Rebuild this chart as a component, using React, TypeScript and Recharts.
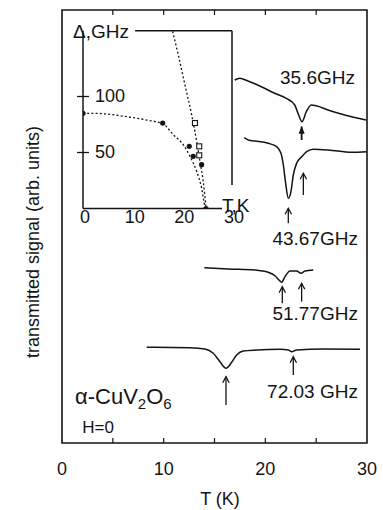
import React from 'react';
import {
  ComposedChart,
  Line,
  XAxis,
  YAxis,
  ReferenceArea,
  ReferenceLine,
  ReferenceDot,
  Scatter,
} from 'recharts';

const FONT = '"Liberation Sans", Arial, Helvetica, sans-serif';
const INK = '#141414';

// ---------- main panel data: T (K) vs transmitted signal (arb. units, offset traces) ----------
const trace356 = [
  { t: 16.99, s: 363 }, { t: 17.48, s: 364.7 }, { t: 18.29, s: 362 }, { t: 19.6, s: 356.3 },
  { t: 20.92, s: 349.7 }, { t: 22.06, s: 344.7 }, { t: 22.89, s: 338 }, { t: 23.28, s: 328 },
  { t: 23.61, s: 321.3 }, { t: 24.03, s: 331.3 }, { t: 24.52, s: 338 }, { t: 25.01, s: 337.3 },
  { t: 26.16, s: 333 }, { t: 27.81, s: 328 }, { t: 29.9, s: 323 },
];
const trace4367 = [
  { t: 17.93, s: 305.3 }, { t: 18.32, s: 303 }, { t: 18.98, s: 302 }, { t: 20.29, s: 299.7 },
  { t: 21.12, s: 296.3 }, { t: 21.54, s: 289.7 }, { t: 21.77, s: 278 }, { t: 22.0, s: 259.7 },
  { t: 22.26, s: 244.7 }, { t: 22.52, s: 251.3 }, { t: 22.75, s: 268 }, { t: 23.08, s: 279.7 },
  { t: 23.58, s: 286.3 }, { t: 24.07, s: 291.3 }, { t: 24.72, s: 293.7 }, { t: 26.19, s: 293 },
  { t: 28.49, s: 290.7 }, { t: 29.97, s: 291.3 },
];
const trace5177 = [
  { t: 14.0, s: 175.3 }, { t: 16.36, s: 174 }, { t: 18.98, s: 173 }, { t: 20.29, s: 170.7 },
  { t: 20.95, s: 167.3 }, { t: 21.34, s: 163 }, { t: 21.61, s: 160.7 }, { t: 21.93, s: 166.3 },
  { t: 22.43, s: 172 }, { t: 23.08, s: 172 }, { t: 23.51, s: 169.7 }, { t: 23.9, s: 172 },
  { t: 24.72, s: 173 },
];
const trace7203 = [
  { t: 8.33, s: 95.7 }, { t: 12.59, s: 95.3 }, { t: 14.07, s: 94 }, { t: 14.88, s: 89.7 },
  { t: 15.54, s: 81.3 }, { t: 16.13, s: 74.7 }, { t: 16.69, s: 80.7 }, { t: 17.18, s: 88 },
  { t: 17.83, s: 92 }, { t: 19.15, s: 93 }, { t: 21.44, s: 93.7 }, { t: 22.26, s: 93 },
  { t: 22.59, s: 91.3 }, { t: 23.08, s: 93 }, { t: 25.7, s: 94 }, { t: 29.31, s: 93.7 },
];

// arrows marking resonance positions: [tail, tip]
const arrows = [
  { id: 'a356', filled: true, pts: [{ t: 23.57, s: 303 }, { t: 23.57, s: 316.3 }] },
  { id: 'a4367a', filled: false, pts: [{ t: 23.74, s: 248 }, { t: 23.74, s: 269.7 }] },
  { id: 'a4367b', filled: false, pts: [{ t: 22.26, s: 219.7 }, { t: 22.26, s: 234.7 }] },
  { id: 'a5177a', filled: false, pts: [{ t: 21.67, s: 139.7 }, { t: 21.67, s: 156.3 }] },
  { id: 'a5177b', filled: false, pts: [{ t: 23.57, s: 141.3 }, { t: 23.57, s: 159.7 }] },
  { id: 'a7203a', filled: false, pts: [{ t: 16.13, s: 38 }, { t: 16.13, s: 66.3 }] },
  { id: 'a7203b', filled: false, pts: [{ t: 22.75, s: 68 }, { t: 22.75, s: 86.3 }] },
];

const mainTicks = [0, 10, 20, 30];
const minorTicks = [5, 10, 15, 20, 25];

// ---------- inset data: gap Δ (GHz) vs T (K) ----------
const gapFilled = [
  { t: 0, d: 85 }, { t: 16.04, d: 76.3 }, { t: 21.39, d: 55.5 }, { t: 22.19, d: 46.6 },
  { t: 23.88, d: 39.1 }, { t: 24.75, d: 0 },
];
const gapOpen = [
  { t: 22.54, d: 76.3 }, { t: 23.4, d: 55.5 }, { t: 23.4, d: 47.5 },
];
const fitLow = [
  { t: 0, d: 85 }, { t: 2.07, d: 85 }, { t: 8.79, d: 82 }, { t: 12.82, d: 79 },
  { t: 16.16, d: 75.4 }, { t: 18.17, d: 65.9 }, { t: 20.18, d: 57 }, { t: 21.53, d: 46.6 },
  { t: 22.88, d: 33.2 }, { t: 23.88, d: 18.3 }, { t: 24.55, d: 2 }, { t: 24.75, d: 0 },
];
const fitHigh = [
  { t: 18.05, d: 158.2 }, { t: 19.17, d: 137.3 }, { t: 20.52, d: 110.5 }, { t: 21.87, d: 83.8 },
  { t: 22.88, d: 60 }, { t: 23.54, d: 42.1 }, { t: 24.2, d: 24.3 }, { t: 24.75, d: 2 },
  { t: 24.8, d: 0 },
];
const insetXTicks = [0, 10, 20, 30];
const insetYTicks = [50, 100];
const INSET_TOP = 158.75;

const txt =
  (value: React.ReactNode, extra: Record<string, unknown> = {}) =>
  (p: any) =>
    (
      <text x={p.cx} y={p.cy} fontFamily={FONT} fontSize={18} fill={INK} {...extra}>
        {value}
      </text>
    );

const arrowDot = (filled: boolean) => (p: any) => {
  const { cx, cy, index } = p;
  if (index !== 1 || cx == null || cy == null) return <g key={`n${index}`} />;
  if (filled) {
    return (
      <path key={`h${index}`} d={`M${cx},${cy - 1} L${cx - 3},${cy + 7} L${cx + 3},${cy + 7} Z`} fill={INK} />
    );
  }
  return (
    <path
      key={`h${index}`}
      d={`M${cx - 3.2},${cy + 6} L${cx},${cy} L${cx + 3.2},${cy + 6}`}
      fill="none"
      stroke={INK}
      strokeWidth={1.3}
    />
  );
};

const traceProps = {
  type: 'monotone' as const,
  dataKey: 's',
  stroke: INK,
  strokeWidth: 1.5,
  dot: false,
  activeDot: false,
  isAnimationActive: false,
};

function MainChart() {
  return (
    <ComposedChart width={383} height={510} margin={{ top: 10, right: 16, bottom: 5, left: 0 }}>
      <XAxis
        dataKey="t"
        type="number"
        domain={[0, 30]}
        ticks={mainTicks}
        interval={0}
        axisLine={false}
        tickLine={false}
        tickSize={0}
        tickMargin={19}
        height={62}
        tick={{ fontSize: 18, fill: INK, fontFamily: FONT }}
        allowDataOverflow
      />
      <YAxis type="number" domain={[0, 433]} width={62} axisLine={false} tickLine={false} tick={false} allowDataOverflow />
      <ReferenceArea x1={0} x2={30} y1={0} y2={433} fill="none" stroke={INK} strokeWidth={1.6} ifOverflow="visible" />
      {minorTicks.map((v) => (
        <ReferenceLine
          key={`b${v}`}
          segment={[{ x: v, y: 0 }, { x: v, y: 5 }]}
          stroke={INK}
          strokeWidth={1.2}
          ifOverflow="visible"
        />
      ))}
      {minorTicks.map((v) => (
        <ReferenceLine
          key={`tp${v}`}
          segment={[{ x: v, y: 433 }, { x: v, y: 428 }]}
          stroke={INK}
          strokeWidth={1.2}
          ifOverflow="visible"
        />
      ))}
      <Line data={trace356} {...traceProps} />
      <Line data={trace4367} {...traceProps} />
      <Line data={trace5177} {...traceProps} />
      <Line data={trace7203} {...traceProps} />
      {arrows.map((a) => (
        <Line
          key={a.id}
          data={a.pts}
          type="linear"
          dataKey="s"
          stroke={INK}
          strokeWidth={a.filled ? 1.8 : 1.3}
          dot={arrowDot(a.filled)}
          activeDot={false}
          isAnimationActive={false}
        />
      ))}
      <ReferenceDot x={28.82} y={359} r={1} ifOverflow="visible" shape={txt('35.6GHz', { textAnchor: 'end', fontSize: 19 })} />
      <ReferenceDot x={29.11} y={198} r={1} ifOverflow="visible" shape={txt('43.67GHz', { textAnchor: 'end', fontSize: 19 })} />
      <ReferenceDot x={29.11} y={123} r={1} ifOverflow="visible" shape={txt('51.77GHz', { textAnchor: 'end', fontSize: 19 })} />
      <ReferenceDot x={29.11} y={45} r={1} ifOverflow="visible" shape={txt('72.03 GHz', { textAnchor: 'end', fontSize: 19 })} />
      <ReferenceDot
        x={1.28}
        y={39}
        r={1}
        ifOverflow="visible"
        shape={txt(
          <>
            <tspan>α-CuV</tspan>
            <tspan fontSize={15} dy={5}>2</tspan>
            <tspan dy={-5}>O</tspan>
            <tspan fontSize={15} dy={5}>6</tspan>
          </>,
          { fontSize: 22 }
        )}
      />
      <ReferenceDot x={2.0} y={10} r={1} ifOverflow="visible" shape={txt('H=0', { fontSize: 17 })} />
      <ReferenceDot x={15.54} y={-62} r={1} ifOverflow="visible" shape={txt('T (K)', { textAnchor: 'middle' })} />
      <ReferenceDot
        x={-2.26}
        y={201}
        r={1}
        ifOverflow="visible"
        shape={(p: any) => (
          <text
            x={p.cx}
            y={p.cy}
            transform={`rotate(-90 ${p.cx} ${p.cy})`}
            textAnchor="middle"
            fontFamily={FONT}
            fontSize={18}
            fill={INK}
          >
            transmitted signal (arb. units)
          </text>
        )}
      />
    </ComposedChart>
  );
}

const circleShape = (p: any) => <circle cx={p.cx} cy={p.cy} r={2.6} fill={INK} />;
const squareShape = (p: any) => (
  <rect x={p.cx - 2.5} y={p.cy - 2.5} width={5} height={5} fill="#fff" stroke={INK} strokeWidth={1.1} />
);

function InsetChart() {
  const border = { stroke: INK, strokeWidth: 1.5, ifOverflow: 'visible' as const };
  return (
    <ComposedChart width={260} height={240} margin={{ top: 30.7, right: 28, bottom: 1.5, left: 83 }}>
      <XAxis
        dataKey="t"
        type="number"
        domain={[0, 30]}
        ticks={insetXTicks}
        interval={0}
        axisLine={false}
        tickLine={false}
        tickSize={0}
        tickMargin={2}
        height={30}
        tick={{ fontSize: 18, fill: INK, fontFamily: FONT, dx: 2 }}
        allowDataOverflow
      />
      <YAxis dataKey="d" type="number" domain={[0, INSET_TOP]} hide allowDataOverflow />
      <ReferenceLine segment={[{ x: 0, y: 0 }, { x: 0, y: INSET_TOP }]} {...border} />
      <ReferenceLine segment={[{ x: 0, y: 0 }, { x: 28, y: 0 }]} {...border} />
      <ReferenceLine segment={[{ x: 10.5, y: INSET_TOP }, { x: 30, y: INSET_TOP }]} {...border} />
      <ReferenceLine segment={[{ x: 30, y: INSET_TOP }, { x: 30, y: 21 }]} {...border} />
      {insetYTicks.map((v) => (
        <ReferenceLine
          key={`yt${v}`}
          segment={[{ x: -1.2, y: v }, { x: 1.2, y: v }]}
          stroke={INK}
          strokeWidth={1.3}
          ifOverflow="visible"
        />
      ))}
      {insetYTicks.map((v) => (
        <ReferenceDot
          key={`yl${v}`}
          x={2.4}
          y={v}
          r={1}
          ifOverflow="visible"
          shape={txt(String(v), { dy: '0.3em' })}
        />
      ))}
      <ReferenceDot x={-2.0} y={152.2} r={1} ifOverflow="visible" shape={txt('Δ,GHz', { fontSize: 19 })} />
      <ReferenceDot x={27.97} y={-3} r={1} ifOverflow="visible" shape={txt('T,K', { fontSize: 19 })} />
      <Line
        data={fitLow}
        type="monotone"
        dataKey="d"
        stroke={INK}
        strokeWidth={1.3}
        strokeDasharray="2 2.2"
        dot={false}
        activeDot={false}
        isAnimationActive={false}
      />
      <Line
        data={fitHigh}
        type="monotone"
        dataKey="d"
        stroke={INK}
        strokeWidth={1.3}
        strokeDasharray="2 2.2"
        dot={false}
        activeDot={false}
        isAnimationActive={false}
      />
      <Scatter data={gapFilled} dataKey="d" shape={circleShape} isAnimationActive={false} />
      <Scatter data={gapOpen} dataKey="d" shape={squareShape} isAnimationActive={false} />
    </ComposedChart>
  );
}

export default function App() {
  return (
    <div style={{ position: 'absolute', left: 0, top: 0, width: 383, height: 510, background: '#fff' }}>
      <div style={{ position: 'absolute', left: 0, top: 0 }}>
        <MainChart />
      </div>
      <div style={{ position: 'absolute', left: 0, top: 0 }}>
        <InsetChart />
      </div>
    </div>
  );
}
